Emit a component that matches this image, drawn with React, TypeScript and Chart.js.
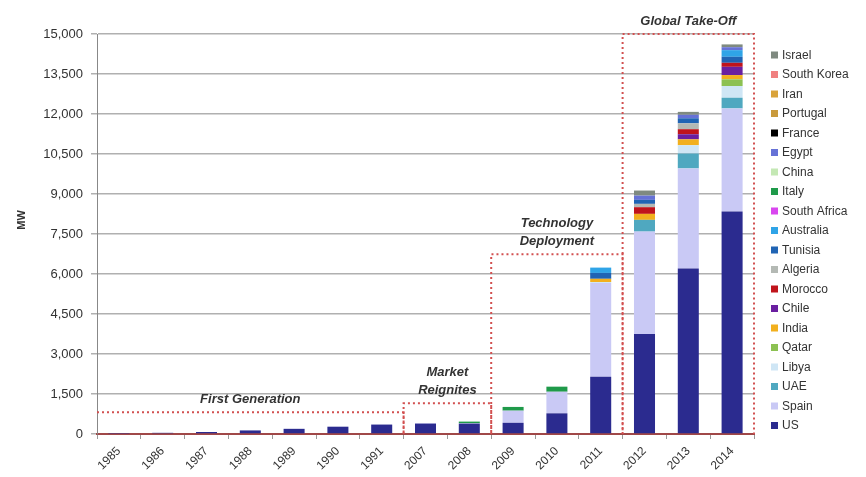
import React, { useEffect, useRef } from "react";
import { Chart, registerables } from "chart.js";
Chart.register(...registerables);

// ---- Data ----
const categories = ["1985", "1986", "1987", "1988", "1989", "1990", "1991", "2007", "2008", "2009", "2010", "2011", "2012", "2013", "2014"];

const us = [14, 44, 74, 134, 194, 274, 354, 390, 390, 420, 775, 2150, 3750, 6210, 8340];
const spain = [0, 0, 0, 0, 0, 0, 0, 20, 15, 455, 810, 3510, 3840, 3750, 3870];
const uae = [0, 0, 0, 0, 0, 0, 0, 0, 0, 0, 0, 0, 440, 560, 400];
const libya = [0, 0, 0, 0, 0, 0, 0, 0, 0, 0, 0, 40, 0, 310, 440];
const qatar = [0, 0, 0, 0, 0, 0, 0, 0, 0, 0, 0, 0, 0, 0, 250];
const india = [0, 0, 0, 0, 0, 0, 0, 0, 0, 0, 0, 120, 225, 220, 160];
const chile = [0, 0, 0, 0, 0, 0, 0, 0, 0, 0, 0, 0, 0, 190, 310];
const morocco = [0, 0, 0, 0, 0, 0, 0, 0, 0, 0, 0, 0, 250, 190, 150];
const algeria = [0, 0, 0, 0, 0, 0, 0, 0, 0, 0, 0, 0, 125, 220, 0];
const tunisia = [0, 0, 0, 0, 0, 0, 0, 0, 0, 0, 0, 220, 150, 190, 225];
const australia = [0, 0, 0, 0, 0, 0, 0, 0, 0, 0, 0, 200, 0, 0, 250];
const southAfrica = [0, 0, 0, 0, 0, 0, 0, 0, 0, 0, 0, 0, 0, 0, 0];
const italy = [0, 0, 0, 0, 0, 0, 0, 0, 60, 140, 190, 0, 0, 0, 0];
const china = [0, 0, 0, 0, 0, 0, 0, 0, 0, 0, 0, 0, 0, 0, 0];
const egypt = [0, 0, 0, 0, 0, 0, 0, 0, 0, 0, 0, 0, 160, 130, 110];
const france = [0, 0, 0, 0, 0, 0, 0, 0, 0, 0, 0, 0, 0, 0, 0];
const portugal = [0, 0, 0, 0, 0, 0, 0, 0, 0, 0, 0, 0, 0, 0, 0];
const iran = [0, 0, 0, 0, 0, 0, 0, 0, 0, 0, 0, 0, 0, 0, 0];
const southKorea = [0, 0, 0, 0, 0, 0, 0, 0, 0, 0, 0, 0, 0, 0, 0];
const israel = [0, 0, 0, 0, 0, 0, 0, 0, 0, 0, 0, 0, 190, 110, 105];

const seriesNames = ["US", "Spain", "UAE", "Libya", "Qatar", "India", "Chile", "Morocco", "Algeria", "Tunisia", "Australia", "South Africa", "Italy", "China", "Egypt", "France", "Portugal", "Iran", "South Korea", "Israel"];
const seriesValues = [us, spain, uae, libya, qatar, india, chile, morocco, algeria, tunisia, australia, southAfrica, italy, china, egypt, france, portugal, iran, southKorea, israel];
const seriesColors = ["#2b2b8f", "#c9c9f5", "#4fa8c0", "#cfe6f5", "#8cc152", "#f2b01e", "#6a1fa0", "#c0141c", "#b4b9b4", "#2064b4", "#2fa4e7", "#d946ef", "#1f9a4a", "#c4e8b4", "#6672d6", "#000000", "#c99a3c", "#d9a33a", "#f08080", "#7f8a80"];

const yTicks = [0, 1500, 3000, 4500, 6000, 7500, 9000, 10500, 12000, 13500, 15000];

const phaseNames = [["First Generation"], ["Market", "Reignites"], ["Technology", "Deployment"], ["Global Take-Off"]];
const phaseFirstIndex = [0, 7, 9, 12];
const phaseLastIndex = [6, 8, 11, 14];
const phaseTop = [820, 1150, 6740, 15000];

const FONT = '"Liberation Sans", Arial, sans-serif';

const phasePlugin = {
  id: "phases",
  afterDatasetsDraw(chart: any) {
    const { ctx, chartArea, scales } = chart;
    const x = scales.x;
    const y = scales.y;
    const half = (x.getPixelForValue(1) - x.getPixelForValue(0)) / 2;
    const bottom = y.getPixelForValue(0);
    ctx.save();
    ctx.strokeStyle = "#d25050";
    ctx.lineWidth = 2;
    ctx.setLineDash([2, 3]);
    for (let i = 0; i < phaseNames.length; i++) {
      const left = i === 0 ? chartArea.left : x.getPixelForValue(phaseFirstIndex[i]) - half;
      const right = x.getPixelForValue(phaseLastIndex[i]) + half;
      const top = y.getPixelForValue(phaseTop[i]);
      ctx.beginPath();
      if (i === 0) {
        ctx.moveTo(left, top);
      } else {
        ctx.moveTo(left, bottom);
        ctx.lineTo(left, top);
      }
      ctx.lineTo(right, top);
      ctx.lineTo(right, bottom);
      ctx.stroke();
    }
    ctx.setLineDash([]);
    ctx.fillStyle = "#333";
    ctx.font = "italic bold 13px " + FONT;
    ctx.textAlign = "center";
    ctx.textBaseline = "middle";
    for (let i = 0; i < phaseNames.length; i++) {
      const left = i === 0 ? chartArea.left : x.getPixelForValue(phaseFirstIndex[i]) - half;
      const right = x.getPixelForValue(phaseLastIndex[i]) + half;
      const top = y.getPixelForValue(phaseTop[i]);
      const lines = phaseNames[i];
      const cx = (left + right) / 2;
      for (let j = 0; j < lines.length; j++) {
        const cy = top - 13 - (lines.length - 1 - j) * 18;
        ctx.fillText(lines[j], cx, cy);
      }
    }
    ctx.restore();
  },
  afterDraw(chart: any) {
    const { ctx, chartArea } = chart;
    ctx.save();
    // Legend (reversed)
    const ds = chart.data.datasets;
    ctx.font = "12px " + FONT;
    ctx.textAlign = "left";
    ctx.textBaseline = "middle";
    const startY = 55;
    const step = 19.5;
    const boxX = chartArea.right + 17;
    for (let k = 0; k < ds.length; k++) {
      const d = ds[ds.length - 1 - k];
      const cy = startY + k * step;
      ctx.fillStyle = d.backgroundColor;
      ctx.fillRect(boxX, cy - 3.5, 7, 7);
      ctx.fillStyle = "#333";
      ctx.fillText(d.label, boxX + 11, cy + 0.5);
    }
    // Y axis title
    ctx.translate(22, (chartArea.top + chartArea.bottom) / 2 - 14);
    ctx.rotate(-Math.PI / 2);
    ctx.font = "bold 11px " + FONT;
    ctx.textAlign = "center";
    ctx.fillStyle = "#333";
    ctx.fillText("MW", 0, 0);
    ctx.restore();
  },
};

export default function App() {
  const ref = useRef<HTMLCanvasElement | null>(null);
  useEffect(() => {
    if (!ref.current) return;
    Chart.defaults.font.family = FONT;
    const chart = new Chart(ref.current, {
      type: "bar",
      data: {
        labels: categories,
        datasets: seriesNames.map((name, i) => ({
          label: name,
          data: seriesValues[i],
          backgroundColor: seriesColors[i],
          borderWidth: 0,
          categoryPercentage: 1,
          barPercentage: 0.48,
        })),
      },
      options: {
        animation: false,
        responsive: false,
        maintainAspectRatio: false,
        layout: { padding: { left: 0, right: 112, top: 34, bottom: 0 } },
        plugins: { legend: { display: false }, tooltip: { enabled: false } },
        scales: {
          x: {
            stacked: true,
            grid: { drawOnChartArea: false, drawTicks: true, tickLength: 5, color: "#999" },
            border: { color: "#a04848", width: 2 },
            ticks: { minRotation: 45, maxRotation: 45, color: "#333", font: { size: 12 }, padding: 5 },
            afterFit: (s: any) => { s.height = 43; },
          },
          y: {
            stacked: true,
            min: 0,
            max: 15000,
            afterBuildTicks: (s: any) => { s.ticks = yTicks.map((v) => ({ value: v })); },
            grid: { color: "#b0b0b0", lineWidth: 1.5, tickLength: 6 },
            border: { color: "#888", width: 1 },
            ticks: {
              color: "#333",
              font: { size: 13 },
              padding: 8,
              callback: (v: any) => Number(v).toLocaleString("en-US"),
            },
            afterFit: (s: any) => { s.width = 97; },
          },
        },
      },
      plugins: [phasePlugin],
    });
    return () => chart.destroy();
  }, []);
  return (
    <div style={{ position: "fixed", left: 0, top: 0, width: 866, height: 477, background: "#fff" }}>
      <canvas ref={ref} width={866} height={477} style={{ width: 866, height: 477, display: "block" }} />
    </div>
  );
}
